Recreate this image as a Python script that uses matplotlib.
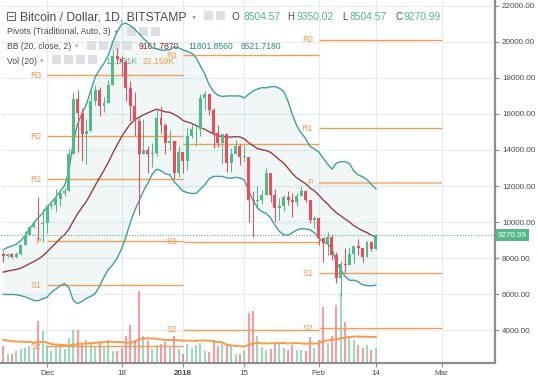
import numpy as np
import pandas as pd
import matplotlib
matplotlib.use("Agg")
import matplotlib.pyplot as plt
import matplotlib.dates as mdates
import matplotlib.transforms as mtransforms
from matplotlib.patches import Rectangle

plt.rcParams['font.family'] = ['Liberation Sans', 'DejaVu Sans']

# daily candles, BTC/USD Bitstamp
dates = pd.date_range("2017-11-21", "2018-02-14", freq="D")
opens = [8245, 8100, 8250, 8040, 8250, 8730, 9300, 9720, 9900, 9880,
         9950, 10870, 10930, 11290, 11640, 11700, 13750, 16850, 16050, 14900,
         15060, 16700, 17300, 16450, 16600, 17600, 19200, 19040, 18900, 17410,
         16460, 15600, 13800, 14000, 13750, 13850, 15800, 15400, 14400, 14500,
         12700, 13860, 13400, 14750, 15150, 15150, 16900, 17100, 16200, 14950,
         14400, 14900, 13300, 13800, 14200, 13600, 13600, 11200, 11150, 11250,
         11500, 12750, 11500, 10800, 10900, 11400, 11200, 11100, 11450, 11750,
         11200, 10100, 10200, 9100, 8850, 9200, 8200, 6900, 7700, 7600,
         8250, 8650, 8550, 8080, 8900, 8504.57]
highs = [8370, 8300, 8290, 8340, 8750, 9480, 9730, 10000, 11400, 10700,
         10950, 11150, 11850, 11650, 11900, 14050, 17200, 17300, 16300, 15700,
         17400, 17600, 17500, 16950, 17900, 19550, 19666, 19200, 18990, 17800,
         17200, 15800, 15700, 14200, 14400, 16250, 16450, 15500, 15100, 14500,
         14200, 13900, 15300, 15500, 15400, 17100, 17250, 17100, 16300, 15400,
         14900, 14950, 14100, 14550, 14350, 14300, 13600, 11700, 12000, 11800,
         13000, 12750, 11850, 11350, 11500, 11700, 11600, 11600, 12000, 11800,
         11250, 10350, 10250, 9100, 9450, 9350, 8350, 7850, 8550, 8600,
         8700, 9050, 8550, 8950, 8950, 9350.02]
lows = [7800, 8090, 8030, 8000, 8200, 8730, 9300, 9690, 9000, 8900,
        9380, 10700, 10600, 10900, 11450, 11700, 13750, 13900, 13400, 13200,
        15060, 16500, 15900, 16100, 16600, 17600, 18750, 18100, 16700, 15600,
        14800, 10400, 13800, 12700, 13050, 13650, 14950, 13800, 14000, 12400,
        12500, 12750, 12900, 14650, 14200, 14800, 16200, 15950, 14100, 14150,
        13200, 12800, 12800, 13800, 13150, 13400, 10000, 9200, 10800, 11000,
        11500, 11100, 10000, 10100, 10600, 10950, 10300, 10900, 11450, 11100,
        9950, 9650, 8750, 7800, 8200, 7900, 6600, 5900, 7200, 7600,
        7750, 8150, 7800, 8080, 8400, 8504.57]
closes = [8100, 8250, 8040, 8250, 8730, 9300, 9720, 9900, 9880, 9950,
          10870, 10930, 11290, 11640, 11700, 13750, 16850, 16050, 14900, 15060,
          16700, 17300, 16450, 16600, 17600, 19200, 19040, 18900, 17410, 16460,
          15600, 13800, 14000, 13750, 13850, 15800, 15400, 14400, 14500, 12700,
          13860, 13400, 14750, 15150, 15180, 16900, 17100, 16200, 14950, 14400,
          14900, 13300, 13800, 14200, 13600, 13600, 11200, 11150, 11250, 11500,
          12750, 11500, 10800, 10900, 11400, 11200, 11100, 11450, 11750, 11200,
          10100, 10200, 9100, 8850, 9200, 8200, 6900, 7700, 7600, 8250,
          8650, 8550, 8080, 8900, 8505, 9270.99]
volumes = [14.2, 7.9, 7.9, 9.9, 11.9, 12.7, 14.2, 11.9, 35.3, 26.9,
           15.3, 9.9, 14.2, 14.2, 12.1, 21.2, 27.7, 27.7, 16.9, 19.2,
           17.5, 14.7, 16.9, 13.3, 19.2, 9.9, 9.9, 12.7, 23.1, 32.5,
           19.7, 60.8, 23.1, 18.4, 11.9, 15.5, 16.4, 17.5, 14.7, 23.1,
           11.9, 7.9, 16.4, 12.7, 15.5, 16.9, 10.4, 9.1, 17.5, 14.7,
           17.5, 16.4, 14.2, 7.9, 7.9, 11.3, 42.4, 43.8, 23.1, 13.6,
           10.8, 11.9, 17.5, 17.5, 12.7, 10.8, 15.5, 10.8, 10.8, 9.9,
           22.0, 12.7, 19.7, 47.5, 16.9, 23.1, 49.4, 60.0, 34.5, 23.1,
           19.2, 15.5, 12.7, 15.5, 10.8, 12.7]
# the 19 sessions before the first visible candle (feed the 20-day indicators)
warmup_closes = [7030, 7160, 7390, 7390, 6970, 7110, 7450, 7140, 6580, 6340,
                 5860, 6520, 6600, 7280, 7850, 7700, 7790, 8040, 8245]
warmup_volumes = [22, 20, 14, 12, 19, 15, 24, 20, 30, 26,
                  34, 24, 16, 20, 26, 18, 13, 11, 15]

# monthly traditional pivots
pivot_starts = ["2017-12-01", "2018-01-01", "2018-02-01"]
pivot_ends = ["2018-01-01", "2018-02-01", "2018-03-01"]
dec_pivots = {"R3": 18150, "R2": 14760, "R1": 12372, "P": 8945, "S1": 6500, "S2": 3110}
jan_pivots = {"R1": 19260, "P": 14317, "S1": 8900, "S2": 4020}
feb_pivots = {"R2": 20100, "R1": 15200, "P": 12170, "S1": 7150, "S2": 4120}

tick_dates = ["2017-12-01", "2017-12-18", "2018-01-01", "2018-01-15", "2018-02-01", "2018-02-14", "2018-03-01"]
tick_labels = ["Dec", "18", "2018", "15", "Feb", "14", "Mar"]

GREEN = "#53b987"
RED = "#eb4d5c"
TEAL = "#3f9f9f"
BASIS = "#94423f"
ORANGE = "#f09a4f"
VOLMA = "#ff9a40"
TXT = "#4a4a4a"

W, H = 538, 380
fig = plt.figure(figsize=(W / 100, H / 100), dpi=100)
ax = fig.add_axes([1 / W, 17 / H, 494 / W, 363 / H])

x = mdates.date2num(dates)
o = np.array(opens); hi = np.array(highs); lo = np.array(lows); c = np.array(closes)
up = c >= o
cols = np.where(up, GREEN, RED)

ax.set_xlim(x[0] - 0.5, x[0] + 112.2)
ax.set_ylim(2187, 22316)

# grid
ax.set_yticks(np.arange(4000, 22001, 2000))
xt = mdates.date2num(pd.to_datetime(tick_dates))
ax.set_xticks(xt)
ax.grid(color="#e6ecf1", lw=0.9, zorder=0)
ax.set_axisbelow(True)

# bollinger bands
allc = pd.Series(warmup_closes + closes)
basis = allc.rolling(20).mean()
dev = allc.rolling(20).std(ddof=0)
basis_v = basis.values[19:]
upper = basis_v + 2 * dev.values[19:]
lower = basis_v - 2 * dev.values[19:]
ax.fill_between(x, lower, upper, color="#198787", alpha=0.06, lw=0, zorder=1)
ax.plot(x, upper, color=TEAL, lw=1.0, zorder=3)
ax.plot(x, lower, color=TEAL, lw=1.0, zorder=3)
ax.plot(x, basis_v, color=BASIS, lw=1.0, zorder=3)

# volume, bottom overlay
VMAX = 307.0
vtr = ax.get_xaxis_transform()
v = np.array(volumes)
ax.vlines(x, 0, v / VMAX, colors=cols, lw=1.5, alpha=0.55, transform=vtr, zorder=2)
allv = pd.Series(warmup_volumes + volumes)
vma = allv.rolling(20).mean().values[19:]
ax.plot(x, vma / VMAX, color=VOLMA, lw=1.4, transform=vtr, zorder=2)

# pivots
for s, e, lv in zip(pivot_starts, pivot_ends, [dec_pivots, jan_pivots, feb_pivots]):
    xs = mdates.date2num(pd.Timestamp(s))
    xe = mdates.date2num(pd.Timestamp(e))
    for name, val in lv.items():
        lw, al = (1.6, 0.6) if (name == "P" and s == "2018-02-01") else (1.0, 0.95)
        ax.hlines(val, xs, xe, color=ORANGE, lw=lw, alpha=al, zorder=2)
        ax.text(xs - 1.3, val, name, color=ORANGE, fontsize=6.3, ha="right", va="center", zorder=2)

# candles
ax.vlines(x, lo, hi, colors=cols, lw=0.75, zorder=4)
body = np.maximum(np.abs(c - o), 40)
ax.bar(x, body, bottom=np.minimum(o, c), width=0.68, color=cols, lw=0, zorder=5)

# last price
last = closes[-1]
ax.axhline(last, color=GREEN, lw=0.8, ls=(0, (1, 1.5)), zorder=3)
btr = mtransforms.blended_transform_factory(ax.transAxes, ax.transData)
ax.text(1.006, last, f"{last:.2f}", transform=btr, color="white", fontsize=5.8,
        ha="left", va="center", zorder=10, clip_on=False,
        bbox=dict(boxstyle="square,pad=0.3", fc=GREEN, ec="none"))

# axes styling
for sp in ["top", "left"]:
    ax.spines[sp].set_visible(False)
for sp in ["right", "bottom"]:
    ax.spines[sp].set_color("#8e8e8e")
    ax.spines[sp].set_linewidth(1.6)
ax.yaxis.tick_right()
ax.set_yticklabels([f"{t:.2f}" for t in np.arange(4000, 22001, 2000)])
ax.set_xticklabels(tick_labels)
ax.tick_params(axis="both", labelsize=5.8, colors="#8e8e8e", labelcolor=TXT, length=3, width=0.8, pad=2)
for lab in ax.get_xticklabels():
    if lab.get_text() == "2018":
        lab.set_fontweight("bold")


# legend block
def fx(px):
    return px / W


def fy(py):
    return 1 - py / H


def tx(px, py, s, **kw):
    ax.text(fx(px), fy(py), s, transform=fig.transFigure, va="baseline", zorder=2, **kw)


def box(px, py, w=9, h=9):
    ax.add_patch(Rectangle((fx(px), fy(py + h)), w / W, h / H, transform=fig.transFigure,
                           fc="#dcdfe3", ec="none", zorder=2, clip_on=False))


ax.add_patch(Rectangle((fx(7), fy(20)), 8 / W, 8 / H, transform=fig.transFigure,
                       fc="none", ec="#6a6a6a", lw=0.8, zorder=2, clip_on=False))
ax.plot([fx(9), fx(13)], [fy(16), fy(16)], transform=fig.transFigure, color="#6a6a6a", lw=0.8, zorder=2)
tx(20, 20, "Bitcoin / Dollar, 1D, BITSTAMP", fontsize=8.7, color=TXT)
tx(192, 19, "\u25be", fontsize=6, color="#aaaaaa", family="DejaVu Sans")
box(204, 11); box(216, 11)
tx(232, 20, "O", fontsize=7.0, color=TXT)
tx(243, 20, f"{opens[-1]:.2f}", fontsize=7.4, color=GREEN)
tx(287, 20, "H", fontsize=7.0, color=TXT)
tx(297, 20, f"{highs[-1]:.2f}", fontsize=7.4, color=GREEN)
tx(342, 20, "L", fontsize=7.0, color=TXT)
tx(350, 20, f"{lows[-1]:.2f}", fontsize=7.4, color=GREEN)
tx(395, 20, "C", fontsize=7.0, color=TXT)
tx(404, 20, f"{closes[-1]:.2f}", fontsize=7.4, color=GREEN)

tx(7, 34.5, "Pivots (Traditional, Auto, 3)", fontsize=6.2, color=TXT)
tx(114, 34, "\u25be", fontsize=5, color="#aaaaaa", family="DejaVu Sans")
box(127, 27); box(139, 27); box(151, 27)

tx(7, 49, "BB (20, close, 2)", fontsize=6.2, color=TXT)
tx(75, 48.5, "\u25be", fontsize=5, color="#aaaaaa", family="DejaVu Sans")
box(87, 41); box(99, 41); box(111, 41); box(123, 41)
tx(139, 49, "9161.7870", fontsize=6.2, color="#872323")
tx(188, 49, "11801.8560", fontsize=6.2, color="#2a8a8a")
tx(241, 49, "6521.7180", fontsize=6.2, color="#2a8a8a")

tx(7, 63.5, "Vol (20)", fontsize=6.2, color=TXT)
tx(40, 63, "\u25be", fontsize=5, color="#aaaaaa", family="DejaVu Sans")
box(52, 55); box(64, 55); box(76, 55); box(88, 55)
tx(105, 63.5, "12.331K", fontsize=6.2, color=GREEN)
tx(143, 63.5, "22.159K", fontsize=6.2, color=VOLMA)

fig.savefig("out.png", dpi=100)
